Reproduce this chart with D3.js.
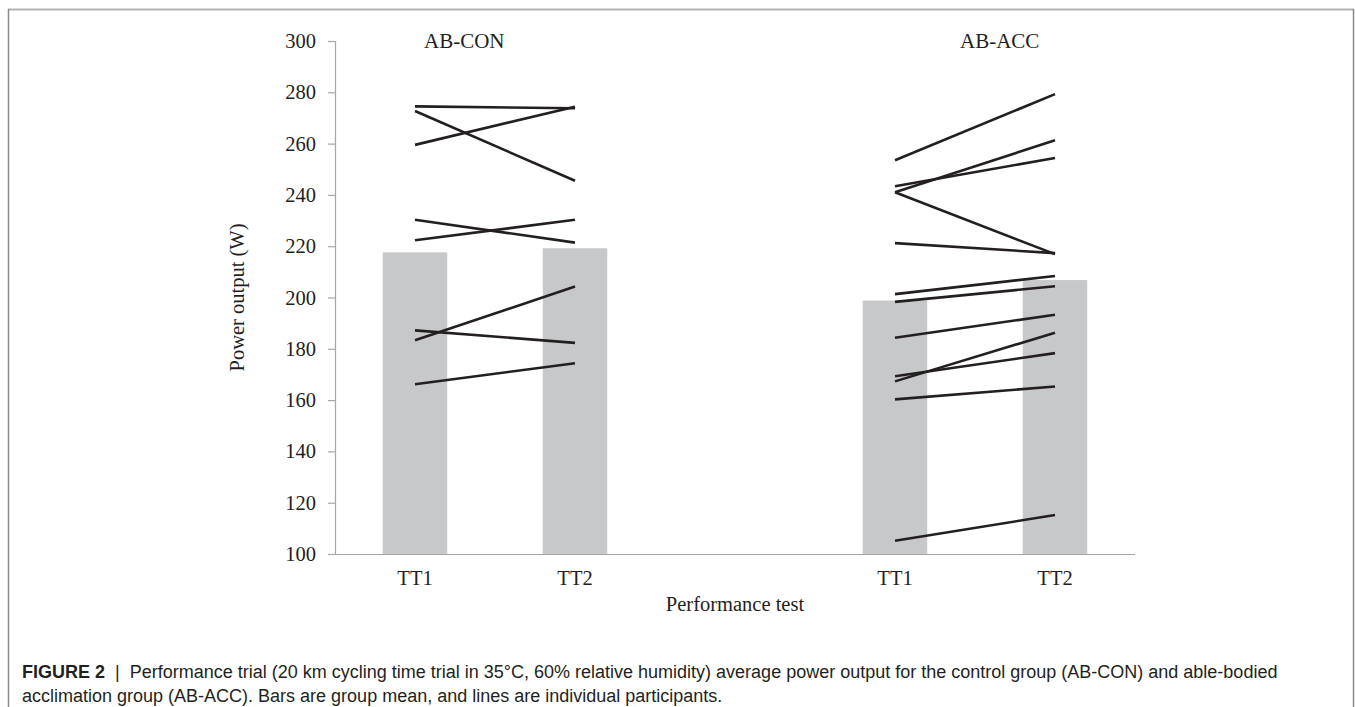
<!DOCTYPE html>
<html>
<head>
<meta charset="utf-8">
<script src="https://cdn.jsdelivr.net/npm/d3@7"></script>
<style>
  html, body { margin: 0; padding: 0; background: #fff; }
  svg { display: block; }
</style>
</head>
<body>
<svg id="chart" width="1355" height="707"></svg>
<script>
// Slots along the x axis: two tests per group with an empty slot between groups
const slots = ["CON-TT1", "CON-TT2", "gap", "ACC-TT1", "ACC-TT2"];
const slotLabels = ["TT1", "TT2", "", "TT1", "TT2"];
const groups = ["AB-CON", "AB-ACC"];

// Group mean power output (W): [TT1, TT2]
const meanCON = [217.6, 219.2];
const meanACC = [198.8, 206.8];

// Individual participants (W): [TT1, TT2]
const indivCON = [
  [274.5, 273.8], [272.7, 245.5], [259.5, 274.4], [230.3, 221.4],
  [222.3, 230.3], [183.3, 204.3], [187.2, 182.3], [166.2, 174.4]
];
const indivACC = [
  [253.5, 279.3], [241.0, 261.3], [243.4, 254.4], [241.0, 216.9],
  [221.2, 217.3], [201.3, 208.4], [198.3, 204.4], [184.3, 193.3],
  [169.3, 178.3], [167.3, 186.3], [160.3, 165.3], [105.2, 115.2]
];

const yTicks = [100, 120, 140, 160, 180, 200, 220, 240, 260, 280, 300];

const svg = d3.select("#chart");
const W = 1355, H = 707;

// Figure frame
svg.append("line").attr("x1", 8).attr("x2", 1354).attr("y1", 9.5).attr("y2", 9.5)
  .attr("stroke", "#b4b4b4").attr("stroke-width", 2);
svg.append("line").attr("x1", 8.5).attr("x2", 8.5).attr("y1", 9).attr("y2", H)
  .attr("stroke", "#8a8a8a").attr("stroke-width", 1.5);
svg.append("line").attr("x1", 1353.5).attr("x2", 1353.5).attr("y1", 9).attr("y2", H)
  .attr("stroke", "#8a8a8a").attr("stroke-width", 1.5);

const x = d3.scaleBand().domain(slots).range([335, 1135]).paddingInner(0).paddingOuter(0);
const y = d3.scaleLinear().domain([100, 300]).range([554, 41]);
const barW = x.bandwidth() * 0.403;
const cx = s => x(s) + x.bandwidth() / 2;

const serif = "'Liberation Serif', 'Times New Roman', serif";

// Bars (group means)
const bars = [
  { slot: "CON-TT1", v: meanCON[0] }, { slot: "CON-TT2", v: meanCON[1] },
  { slot: "ACC-TT1", v: meanACC[0] }, { slot: "ACC-TT2", v: meanACC[1] }
];
svg.append("g").selectAll("rect").data(bars).join("rect")
  .attr("x", d => cx(d.slot) - barW / 2)
  .attr("width", barW)
  .attr("y", d => y(d.v))
  .attr("height", d => y(100) - y(d.v))
  .attr("fill", "#c7c8ca");

// Individual participant lines
const lineData = [
  ...indivCON.map(v => ({ a: "CON-TT1", b: "CON-TT2", v })),
  ...indivACC.map(v => ({ a: "ACC-TT1", b: "ACC-TT2", v }))
];
svg.append("g").selectAll("line").data(lineData).join("line")
  .attr("x1", d => cx(d.a)).attr("x2", d => cx(d.b))
  .attr("y1", d => y(d.v[0])).attr("y2", d => y(d.v[1]))
  .attr("stroke", "#231f20").attr("stroke-width", 2.6).attr("stroke-linecap", "butt");

// Y axis
const yAxis = svg.append("g").attr("transform", "translate(335,0)")
  .call(d3.axisLeft(y).tickValues(yTicks).tickSize(7).tickPadding(12).tickFormat(d3.format("d")));
yAxis.select(".domain").attr("stroke", "#a6a6a6").attr("stroke-width", 1.2);
yAxis.selectAll(".tick line").attr("stroke", "#a6a6a6").attr("stroke-width", 1.2);
yAxis.selectAll(".tick text").attr("font-family", serif).attr("font-size", 20.5).attr("fill", "#231f20");

// X axis
const xAxis = svg.append("g").attr("transform", "translate(0,554)")
  .call(d3.axisBottom(x).tickSize(0).tickPadding(16).tickFormat((d, i) => slotLabels[i]));
xAxis.select(".domain").attr("d", "M335,0.5H1135").attr("stroke", "#a6a6a6").attr("stroke-width", 1.2);
xAxis.selectAll(".tick text").attr("font-family", serif).attr("font-size", 20.5).attr("fill", "#231f20");

// Axis titles
svg.append("text").attr("transform", "translate(244,297.5) rotate(-90)")
  .attr("text-anchor", "middle").attr("font-family", serif).attr("font-size", 20.5)
  .attr("fill", "#231f20").text("Power output (W)");
svg.append("text").attr("x", 735).attr("y", 611)
  .attr("text-anchor", "middle").attr("font-family", serif).attr("font-size", 20.5)
  .attr("fill", "#231f20").text("Performance test");

// Group labels
const groupX = [424, 960];
svg.append("g").selectAll("text").data(groups).join("text")
  .attr("x", (d, i) => groupX[i]).attr("y", 48)
  .attr("font-family", serif).attr("font-size", 21).attr("fill", "#231f20")
  .text(d => d);

// Caption
const sans = "'Liberation Sans', Arial, sans-serif";
const cap1 = svg.append("text").attr("x", 22).attr("y", 678)
  .attr("font-family", sans).attr("font-size", 18).attr("fill", "#231f20");
cap1.append("tspan").attr("font-weight", "bold").text("FIGURE 2");
cap1.append("tspan").text(" \u00a0|\u00a0 Performance trial (20 km cycling time trial in 35\u00b0C, 60% relative humidity) average power output for the control group (AB-CON) and able-bodied");
svg.append("text").attr("x", 22).attr("y", 702)
  .attr("font-family", sans).attr("font-size", 18).attr("fill", "#231f20")
  .text("acclimation group (AB-ACC). Bars are group mean, and lines are individual participants.");
</script>
</body>
</html>
